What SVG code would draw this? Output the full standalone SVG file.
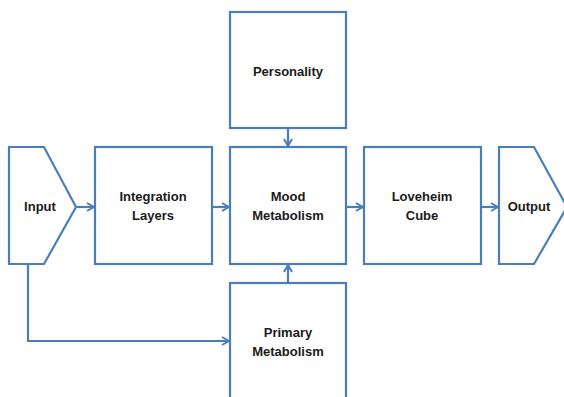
<svg xmlns="http://www.w3.org/2000/svg" width="564" height="397" viewBox="0 0 564 397">
<style>
.n{fill:#fff;stroke:#4a7ebb;stroke-width:2.2}
.c{fill:none;stroke:#4a7ebb;stroke-width:2.2}
text{font-family:"Liberation Sans",Arial,sans-serif;font-weight:bold;font-size:13px;fill:#1a1a1a;text-anchor:middle}
</style>
<defs>
<marker id="a" viewBox="0 0 10 10" refX="9" refY="5" markerWidth="10" markerHeight="10" markerUnits="userSpaceOnUse" orient="auto">
<path d="M2,1 L9,5 L2,9" fill="none" stroke="#4a7ebb" stroke-width="2"/>
</marker>
</defs>
<rect width="564" height="397" fill="#fff"/>
<g id="connectors">
<line class="c" x1="77" y1="207" x2="94" y2="207" marker-end="url(#a)"/>
<line class="c" x1="212" y1="207" x2="229" y2="207" marker-end="url(#a)"/>
<line class="c" x1="346" y1="207" x2="363" y2="207" marker-end="url(#a)"/>
<line class="c" x1="481" y1="207" x2="498" y2="207" marker-end="url(#a)"/>
<line class="c" x1="288" y1="128" x2="288" y2="146" marker-end="url(#a)"/>
<line class="c" x1="288" y1="283" x2="288" y2="265" marker-end="url(#a)"/>
<polyline class="c" points="28,264 28,341 229,341" marker-end="url(#a)"/>
</g>
<g id="input">
<polygon class="n" points="9,147 44,147 76,207 44,264 9,264"/>
<text x="40" y="211">Input</text>
</g>
<g id="integration">
<rect class="n" x="95" y="147" width="117" height="117"/>
<text x="153" y="201">Integration</text>
<text x="153" y="220">Layers</text>
</g>
<g id="personality">
<rect class="n" x="230" y="12" width="116" height="116"/>
<text x="288" y="76">Personality</text>
</g>
<g id="mood">
<rect class="n" x="230" y="147" width="116" height="117"/>
<text x="288" y="201">Mood</text>
<text x="288" y="220">Metabolism</text>
</g>
<g id="primary">
<rect class="n" x="230" y="283" width="116" height="130"/>
<text x="288" y="337">Primary</text>
<text x="288" y="356">Metabolism</text>
</g>
<g id="loveheim">
<rect class="n" x="364" y="147" width="117" height="117"/>
<text x="422" y="201">Loveheim</text>
<text x="422" y="220">Cube</text>
</g>
<g id="output">
<polygon class="n" points="499,147 534,147 567,207 534,264 499,264"/>
<text x="529" y="211">Output</text>
</g>
</svg>
